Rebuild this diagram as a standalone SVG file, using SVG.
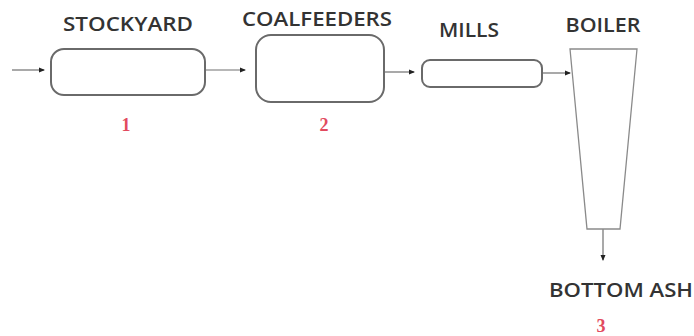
<svg xmlns="http://www.w3.org/2000/svg" width="694" height="336" viewBox="0 0 694 336">
  <defs>
    <marker id="head" viewBox="0 0 6 6" refX="5" refY="3" markerWidth="6" markerHeight="6" markerUnits="userSpaceOnUse" orient="auto">
      <path d="M0,0.5 L6,3 L0,5.5 Z" fill="#222"/>
    </marker>
    <style>
      .box { fill: #fff; stroke: #6a6a6a; stroke-width: 2; }
      .boiler { fill: #fff; stroke: #8a8a8a; stroke-width: 1.3; }
      .flow { fill: none; stroke: #707070; stroke-width: 1.2; marker-end: url(#head); }
      .title { font-family: "Open Sans", "Liberation Sans", Arial, sans-serif; font-size: 20px; font-weight: 600; fill: #333; text-anchor: middle; }
      .num { font-family: "Liberation Serif", "Times New Roman", serif; font-size: 18px; font-weight: bold; fill: #e24a5e; text-anchor: middle; }
    </style>
  </defs>

  <rect width="694" height="336" fill="#fff"/>

  <!-- process flow -->
  <g id="connectors">
    <line class="flow" x1="12" y1="70" x2="44" y2="70"/>
    <line class="flow" x1="206" y1="70" x2="245" y2="70"/>
    <line class="flow" x1="385" y1="72" x2="414" y2="72"/>
    <line class="flow" x1="543" y1="73" x2="570" y2="73"/>
    <line class="flow" x1="603" y1="229" x2="603" y2="260"/>
  </g>

  <g id="stockyard">
    <rect class="box" x="51" y="49" width="154" height="46" rx="13" ry="13"/>
    <text class="title" x="128" y="31" textLength="130" lengthAdjust="spacingAndGlyphs">STOCKYARD</text>
    <text class="num" x="126" y="131">1</text>
  </g>

  <g id="coalfeeders">
    <rect class="box" x="256" y="35" width="128" height="67" rx="15" ry="15"/>
    <text class="title" x="317" y="26" textLength="150" lengthAdjust="spacingAndGlyphs">COALFEEDERS</text>
    <text class="num" x="324" y="131">2</text>
  </g>

  <g id="mills">
    <rect class="box" x="422" y="60" width="120" height="27" rx="8" ry="8"/>
    <text class="title" x="469" y="37" textLength="60" lengthAdjust="spacingAndGlyphs">MILLS</text>
  </g>

  <g id="boiler">
    <path class="boiler" d="M570,49 L637,49 L620,229 L587,229 Z"/>
    <text class="title" x="603" y="32" textLength="75" lengthAdjust="spacingAndGlyphs">BOILER</text>
  </g>

  <g id="bottom-ash">
    <text class="title" x="621" y="297" textLength="144" lengthAdjust="spacingAndGlyphs">BOTTOM ASH</text>
    <text class="num" x="601" y="332">3</text>
  </g>
</svg>
